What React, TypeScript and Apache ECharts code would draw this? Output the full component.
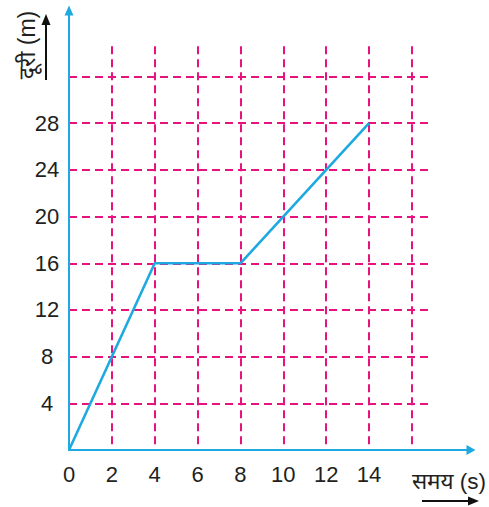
import React, { useEffect, useRef } from "react";
import * as echarts from "echarts";

const timeValues = [0, 4, 8, 14];
const distanceValues = [0, 16, 16, 28];
const xTickLabels = [0, 2, 4, 6, 8, 10, 12, 14];
const yTickLabels = [4, 8, 12, 16, 20, 24, 28];
const xTitle = "समय (s)";
const yTitle = "दूरी (m)";

const BLUE = "#1ea9e1";
const PINK = "#e6137f";
const TEXT = "#231f20";
const FONT = "'Liberation Sans', Arial, 'Noto Sans Devanagari', 'Noto Sans', sans-serif";

// pixel geometry
const W = 489;
const H = 507;
const X0 = 69;
const Y0 = 450;
const PX_X = 21.43; // px per second
const PX_Y = 11.67; // px per metre
const gridXMax = 16.8;
const gridYMax = 34.6;
const axisRightPx = 471;
const axisTopPx = 10.5;

export default function App() {
  const ref = useRef<HTMLDivElement>(null);
  useEffect(() => {
    if (!ref.current) return;
    const chart = echarts.init(ref.current, undefined, { renderer: "svg" });
    const axisXMax = (axisRightPx - X0) / PX_X;
    const axisYMax = (Y0 - axisTopPx) / PX_Y;
    const grid2Right = W - X0 - gridXMax * PX_X;
    const grid2Top = H - (H - Y0) - gridYMax * PX_Y;
    const data = timeValues.map((t, i) => [t, distanceValues[i]]);
    chart.setOption({
      animation: false,
      grid: [
        { left: X0, bottom: H - Y0, right: W - axisRightPx, top: axisTopPx },
        { left: X0, bottom: H - Y0, right: grid2Right, top: grid2Top },
      ],
      xAxis: [
        {
          type: "value",
          gridIndex: 0,
          min: 0,
          max: axisXMax,
          interval: 2,
          axisLine: {
            show: true,
            symbol: ["none", "triangle"],
            symbolSize: [10, 9],
            lineStyle: { color: BLUE, width: 2 },
          },
          axisTick: { show: false },
          splitLine: { show: false },
          axisLabel: {
            margin: 13,
            fontSize: 22,
            fontFamily: FONT,
            color: TEXT,
            showMaxLabel: false,
            formatter: (v: number) => (xTickLabels.includes(v) ? String(v) : ""),
          },
        },
        {
          type: "value",
          gridIndex: 1,
          min: 0,
          max: gridXMax,
          interval: 2,
          axisLine: { show: false },
          axisTick: { show: false },
          axisLabel: { show: false },
          splitLine: {
            show: true,
            showMinLine: false,
            showMaxLine: false,
            lineStyle: { color: PINK, width: 2, type: [8, 5] },
          },
        },
      ],
      yAxis: [
        {
          type: "value",
          gridIndex: 0,
          min: 0,
          max: axisYMax,
          interval: 4,
          axisLine: {
            show: true,
            symbol: ["none", "triangle"],
            symbolSize: [9, 10],
            lineStyle: { color: BLUE, width: 2 },
          },
          axisTick: { show: false },
          splitLine: { show: false },
          axisLabel: {
            margin: 22,
            align: "center",
            fontSize: 22,
            fontFamily: FONT,
            color: TEXT,
            showMaxLabel: false,
            formatter: (v: number) => (yTickLabels.includes(v) ? String(v) : ""),
          },
        },
        {
          type: "value",
          gridIndex: 1,
          min: 0,
          max: gridYMax,
          interval: 4,
          axisLine: { show: false },
          axisTick: { show: false },
          axisLabel: { show: false },
          splitLine: {
            show: true,
            showMinLine: false,
            showMaxLine: false,
            lineStyle: { color: PINK, width: 2, type: [8, 5] },
          },
        },
      ],
      series: [
        {
          type: "line",
          xAxisIndex: 1,
          yAxisIndex: 1,
          data,
          symbol: "none",
          lineStyle: { color: BLUE, width: 2.6 },
          z: 5,
        },
      ],
      graphic: [
        {
          type: "text",
          x: 27,
          y: 45,
          rotation: Math.PI / 2,
          style: {
            text: yTitle,
            fontSize: 23,
            fontFamily: FONT,
            fill: TEXT,
            align: "center",
            verticalAlign: "middle",
          },
        },
        {
          type: "line",
          shape: { x1: 46, y1: 80, x2: 46, y2: 22 },
          style: { stroke: "#111", lineWidth: 2 },
        },
        {
          type: "polygon",
          shape: { points: [[46, 14], [41.5, 25], [50.5, 25]] },
          style: { fill: "#111" },
        },
        {
          type: "text",
          x: 449,
          y: 481,
          style: {
            text: xTitle,
            fontSize: 22.5,
            fontFamily: FONT,
            fill: TEXT,
            align: "center",
            verticalAlign: "middle",
          },
        },
        {
          type: "line",
          shape: { x1: 422, y1: 501, x2: 470, y2: 501 },
          style: { stroke: "#111", lineWidth: 2 },
        },
        {
          type: "polygon",
          shape: { points: [[479, 501], [468, 496.5], [468, 505.5]] },
          style: { fill: "#111" },
        },
      ],
    });
    return () => chart.dispose();
  }, []);
  return (
    <div
      ref={ref}
      style={{ position: "fixed", left: 0, top: 0, width: W, height: H, background: "#fff" }}
    />
  );
}
